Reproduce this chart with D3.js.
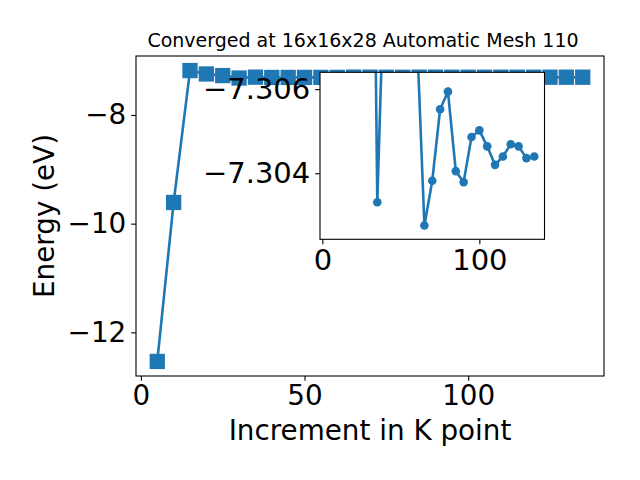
<!DOCTYPE html>
<html><head><meta charset="utf-8">
<script src="https://cdn.jsdelivr.net/npm/d3@7/dist/d3.min.js"></script>
<style>body{margin:0;background:#fff}svg{display:block}text{font-family:"DejaVu Sans",sans-serif}</style>
</head><body>
<script>
const kPoints = [5,10,15,20,25,30,35,40,45,50,55,60,65,70,75,80,85,90,95,100,105,110,115,120,125,130,135];
const energies = [-12.536,-9.61,-7.182,-7.245,-7.275,-7.32,-7.30331,-7.3095,-7.309,-7.3085,-7.308,-7.3075,-7.30276,-7.30382,-7.30552,-7.30594,-7.30405,-7.30379,-7.30486,-7.30502,-7.30464,-7.3042,-7.3044,-7.30469,-7.30464,-7.30436,-7.3044];
const insetFromK = 30;
const mainXTicks = [0,50,100];
const mainYTicks = [-8,-10,-12];
const insetXTicks = [0,100];
const insetYTicks = [-7.306,-7.304];
const insetYLim = [-7.3064,-7.30243];
const titleText = "Converged at 16x16x28 Automatic Mesh 110";
const xLabel = "Increment in K point";
const yLabel = "Energy (eV)";

const W=640,H=480, color="#1f77b4";
const svg=d3.select("body").append("svg").attr("width",W).attr("height",H);
const data=kPoints.map((k,i)=>({x:k,y:energies[i]}));
const insetData=data.filter(d=>d.x>=insetFromK);
function pad(ext){const r=ext[1]-ext[0];return [ext[0]-0.05*r,ext[1]+0.05*r];}

// main axes
const M={l:136,r:604,t:56,b:376};
const x=d3.scaleLinear().domain(pad(d3.extent(kPoints))).range([M.l,M.r]);
const y=d3.scaleLinear().domain(pad(d3.extent(energies))).range([M.b,M.t]);
const g=svg.append("g");
const tl=4.86, fs=27.8, lw=2.6;
const xa=g.append("g").attr("transform",`translate(0,${M.b})`).call(d3.axisBottom(x).tickValues(mainXTicks).tickSize(tl).tickPadding(4.86).tickFormat(d3.format("d")));
const ya=g.append("g").attr("transform",`translate(${M.l},0)`).call(d3.axisLeft(y).tickValues(mainYTicks).tickSize(tl).tickPadding(4.86).tickFormat(d=>d3.format("d")(d).replace("-","−")));
[xa,ya].forEach(a=>{a.select(".domain").remove();a.selectAll("line").attr("stroke","#000").attr("stroke-width",1.1);a.selectAll("text").attr("font-size",fs).attr("fill","#000").attr("font-family","DejaVu Sans");});
g.append("clipPath").attr("id","mc").append("rect").attr("x",M.l).attr("y",M.t).attr("width",M.r-M.l).attr("height",M.b-M.t);
const line=d3.line().x(d=>x(d.x)).y(d=>y(d.y));
g.append("path").datum(data).attr("d",line).attr("fill","none").attr("stroke",color).attr("stroke-width",lw).attr("clip-path","url(#mc)");
const ms=13.9;
g.selectAll("rect.m").data(data).enter().append("rect").attr("class","m")
 .attr("x",d=>x(d.x)-ms/2).attr("y",d=>y(d.y)-ms/2).attr("width",ms).attr("height",ms)
 .attr("fill",color).attr("stroke",color).attr("stroke-width",1.4);
g.append("rect").attr("x",M.l).attr("y",M.t).attr("width",M.r-M.l).attr("height",M.b-M.t).attr("fill","none").attr("stroke","#000").attr("stroke-width",1.1);
svg.append("text").attr("x",(M.l+M.r)/2).attr("y",440).attr("text-anchor","middle").attr("font-size",27.8).text(xLabel);
svg.append("text").attr("transform",`translate(54,${(M.t+M.b)/2}) rotate(-90)`).attr("text-anchor","middle").attr("font-size",27.8).text(yLabel);
svg.append("text").attr("x",363).attr("y",47).attr("text-anchor","middle").attr("font-size",19).text(titleText);

// inset axes
const I={l:320,r:544.5,t:72.3,b:239.3};
const ix=d3.scaleLinear().domain(pad(d3.extent(kPoints))).range([I.l,I.r]);
const iy=d3.scaleLinear().domain(insetYLim).range([I.t,I.b]);
const ig=svg.append("g");
ig.append("rect").attr("x",I.l).attr("y",I.t).attr("width",I.r-I.l).attr("height",I.b-I.t).attr("fill","#fff");
ig.append("clipPath").attr("id","ic").append("rect").attr("x",I.l).attr("y",I.t).attr("width",I.r-I.l).attr("height",I.b-I.t);
const il=d3.line().x(d=>ix(d.x)).y(d=>iy(d.y));
const ip=ig.append("g").attr("clip-path","url(#ic)");
ip.append("path").datum(insetData).attr("d",il).attr("fill","none").attr("stroke",color).attr("stroke-width",lw);
ip.selectAll("circle").data(insetData).enter().append("circle").attr("cx",d=>ix(d.x)).attr("cy",d=>iy(d.y)).attr("r",4.3).attr("fill",color);
const ixa=ig.append("g").attr("transform",`translate(0,${I.b})`).call(d3.axisBottom(ix).tickValues(insetXTicks).tickSize(tl).tickPadding(4.86).tickFormat(d3.format("d")));
const iya=ig.append("g").attr("transform",`translate(${I.l},0)`).call(d3.axisLeft(iy).tickValues(insetYTicks).tickSize(tl).tickPadding(4.86).tickFormat(d=>d3.format(".3f")(d).replace("-","−")));
[ixa,iya].forEach(a=>{a.select(".domain").remove();a.selectAll("line").attr("stroke","#000").attr("stroke-width",1.1);a.selectAll("text").attr("font-size",29).attr("fill","#000").attr("font-family","DejaVu Sans");});
ig.append("rect").attr("x",I.l).attr("y",I.t).attr("width",I.r-I.l).attr("height",I.b-I.t).attr("fill","none").attr("stroke","#000").attr("stroke-width",1.1);
</script>
</body></html>
